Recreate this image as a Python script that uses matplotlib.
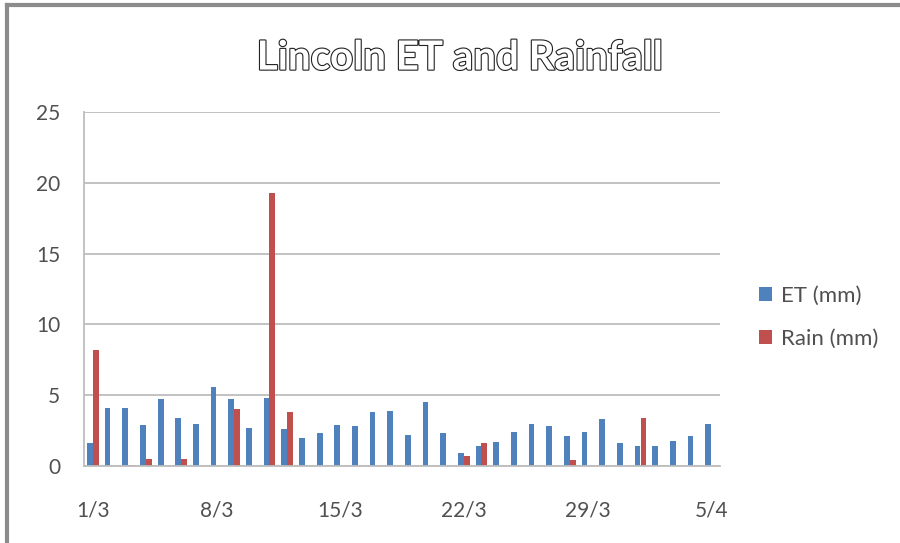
import numpy as np
import matplotlib
matplotlib.use('Agg')
import matplotlib.pyplot as plt
import matplotlib.patheffects as pe
from matplotlib.lines import Line2D

# daily values, 1 March to 5 April
days = ['1/3', '2/3', '3/3', '4/3', '5/3', '6/3', '7/3', '8/3', '9/3', '10/3',
        '11/3', '12/3', '13/3', '14/3', '15/3', '16/3', '17/3', '18/3', '19/3', '20/3',
        '21/3', '22/3', '23/3', '24/3', '25/3', '26/3', '27/3', '28/3', '29/3', '30/3',
        '31/3', '1/4', '2/4', '3/4', '4/4', '5/4']
et_mm = [1.6, 4.1, 4.1, 2.9, 4.7, 3.4, 3.0, 5.6, 4.7, 2.7,
         4.8, 2.6, 2.0, 2.3, 2.9, 2.8, 3.8, 3.9, 2.2, 4.5,
         2.3, 0.9, 1.4, 1.7, 2.4, 3.0, 2.8, 2.1, 2.4, 3.3,
         1.6, 1.4, 1.4, 1.8, 2.1, 3.0]
rain_mm = [8.2, 0.0, 0.1, 0.5, 0.0, 0.5, 0.0, 0.0, 4.0, 0.0,
           19.3, 3.8, 0.0, 0.0, 0.0, 0.0, 0.0, 0.0, 0.0, 0.0,
           0.0, 0.7, 1.6, 0.0, 0.0, 0.0, 0.0, 0.4, 0.0, 0.0,
           0.0, 3.4, 0.0, 0.0, 0.0, 0.0]
tick_every = 7

plt.rcParams['font.family'] = ['Lato', 'DejaVu Sans']

fig = plt.figure(figsize=(9, 5.43), dpi=100)
ax = fig.add_axes([84 / 900, 77 / 543, 636 / 900, 354 / 543])

x = np.arange(len(days))
w = 0.33
ax.bar(x - w / 2, et_mm, width=w, color='#4F81BD', label='ET (mm)')
ax.bar(x + w / 2, rain_mm, width=w, color='#C0504D', label='Rain (mm)')

ax.set_xlim(-0.5, len(days) - 0.5)
ax.set_ylim(0, 25)
ax.set_yticks(range(0, 26, 5))
ax.set_xticks(x[::tick_every])
ax.set_xticklabels(days[::tick_every])
ax.yaxis.grid(True, color='#BDBDBD', linewidth=1.3)
ax.set_axisbelow(True)
for s in ['top', 'right']:
    ax.spines[s].set_visible(False)
ax.spines['left'].set_color('#BDBDBD')
ax.spines['bottom'].set_color('#BDBDBD')
ax.spines['left'].set_linewidth(1.3)
ax.spines['bottom'].set_linewidth(1.3)
ax.tick_params(axis='both', length=0, labelsize=15, labelcolor='#505050')
ax.tick_params(axis='y', pad=17)
ax.tick_params(axis='x', pad=25)

ax.legend(loc='center left', bbox_to_anchor=(1.03, 0.42), frameon=False,
          fontsize=16, labelcolor='#505050', handlelength=0.6, handleheight=0.6,
          handletextpad=0.4, labelspacing=1.05)

fig.text(0.511, 0.893, 'Lincoln ET and Rainfall', ha='center', va='center',
         fontsize=29, fontweight='bold', color='white',
         path_effects=[pe.withStroke(linewidth=1.6, foreground='#222222')])

# chart border (left and top edges visible)
fig.add_artist(Line2D([7 / 900, 7 / 900], [0, 1 - 5 / 543], transform=fig.transFigure,
                      color='#8C8C8C', linewidth=3))
fig.add_artist(Line2D([7 / 900, 1], [1 - 5 / 543, 1 - 5 / 543], transform=fig.transFigure,
                      color='#8C8C8C', linewidth=3))

fig.savefig('out.png', dpi=100)
